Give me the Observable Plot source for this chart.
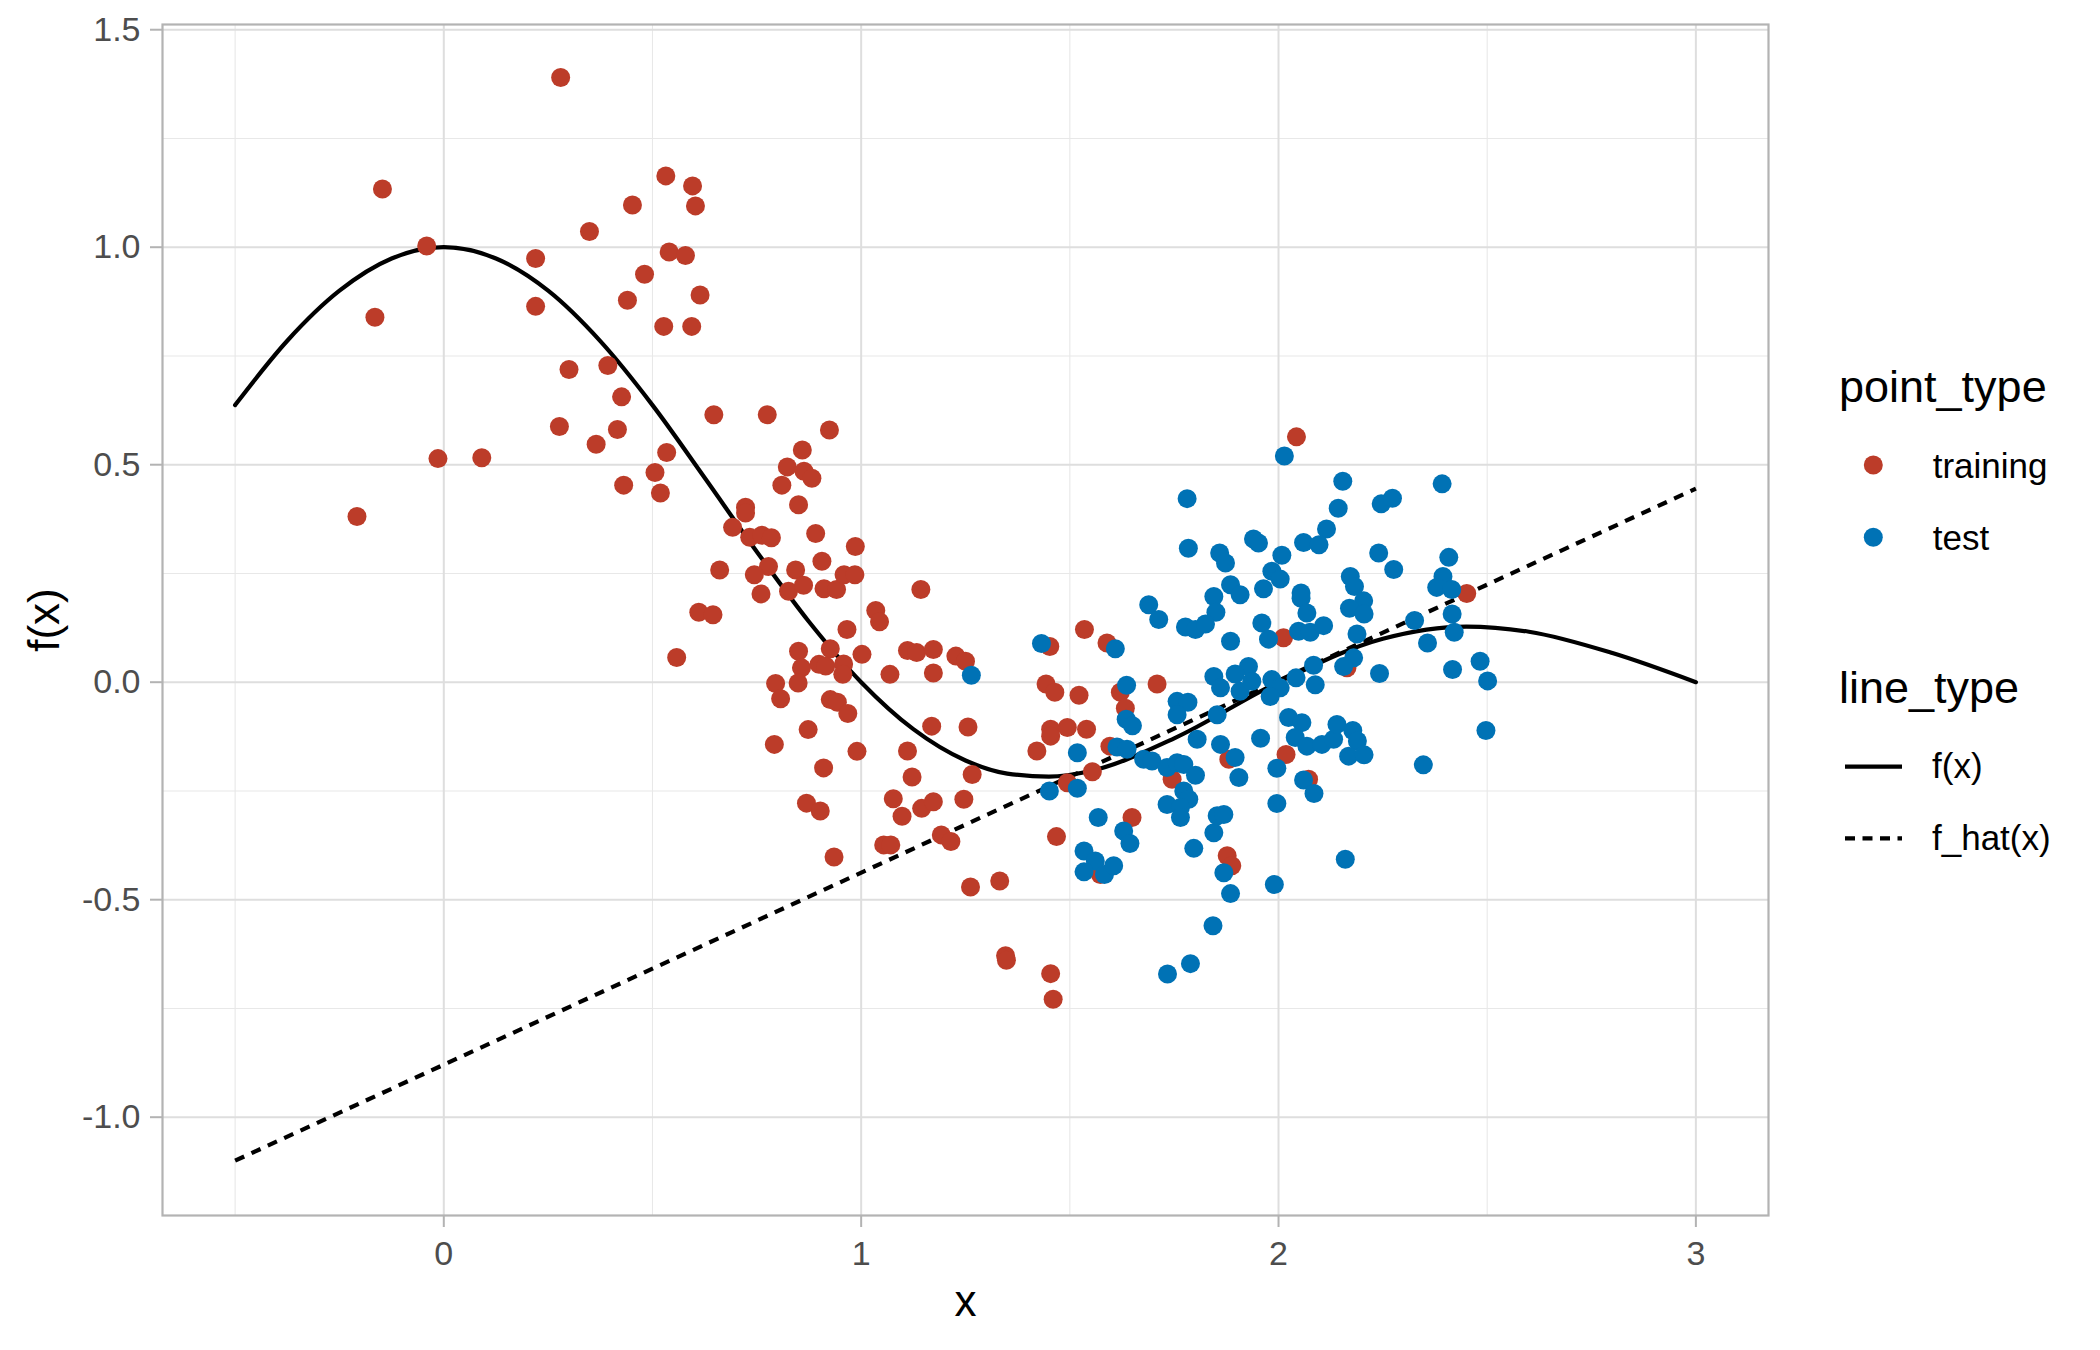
<!DOCTYPE html>
<html>
<head>
<meta charset="utf-8">
<script src="https://cdn.jsdelivr.net/npm/d3@7"></script>
<script src="https://cdn.jsdelivr.net/npm/@observablehq/plot@0.6"></script>
<style>
  html, body { margin: 0; padding: 0; background: #ffffff; }
  #wrap { position: relative; width: 2100px; height: 1350px; overflow: hidden; background: #fff; }
  #chart { position: absolute; left: 0; top: 0; }
  #legend { position: absolute; left: 1800px; top: 0; }
</style>
</head>
<body>
<div id="wrap"><div id="chart"></div><div id="legend"></div></div>
<script>
// ---------------- data ----------------
const trainingPoints = [
  [0.280,1.390],[-0.147,1.134],[-0.041,1.003],[-0.165,0.839],[-0.208,0.381],[-0.014,0.514],[0.091,0.516],
  [0.220,0.974],[0.220,0.864],[0.349,1.036],[0.452,1.097],[0.532,1.164],[0.596,1.141],[0.603,1.095],
  [0.481,0.938],[0.540,0.989],[0.579,0.981],[0.440,0.878],[0.614,0.890],[0.527,0.818],[0.594,0.818],
  [0.300,0.719],[0.393,0.728],[0.426,0.656],[0.277,0.588],[0.416,0.581],[0.365,0.547],[0.534,0.528],
  [0.506,0.482],[0.431,0.453],[0.519,0.435],[0.647,0.615],[0.661,0.258],[0.611,0.161],[0.645,0.155],
  [0.558,0.057],
  [0.775,0.615],[0.924,0.580],[0.859,0.534],[0.823,0.495],[0.863,0.485],[0.882,0.469],[0.810,0.453],
  [0.850,0.408],[0.723,0.402],[0.723,0.389],[0.692,0.356],[0.733,0.333],[0.762,0.338],[0.785,0.332],
  [0.891,0.342],[0.986,0.312],[0.906,0.278],[0.778,0.266],[0.744,0.247],[0.843,0.258],[0.760,0.203],
  [0.826,0.209],[0.862,0.223],[0.911,0.215],[0.941,0.213],[0.959,0.247],[0.985,0.247],[1.143,0.213],
  [1.035,0.165],[1.044,0.139],[0.966,0.121],[0.926,0.077],[0.850,0.071],[1.002,0.064],[1.111,0.073],
  [1.133,0.068],[1.173,0.075],[1.227,0.060],[1.250,0.048],[0.857,0.033],[0.899,0.041],[0.915,0.037],
  [0.958,0.042],[0.956,0.018],[1.069,0.018],[1.173,0.021],[0.795,-0.003],[0.849,-0.002],[0.807,-0.038],
  [0.926,-0.040],[0.943,-0.046],
  [0.968,-0.072],[0.873,-0.109],[0.792,-0.143],[0.990,-0.159],[0.910,-0.197],[0.869,-0.278],[0.902,-0.296],
  [0.935,-0.402],[1.169,-0.101],[1.111,-0.158],[1.122,-0.218],[1.077,-0.268],[1.098,-0.308],[1.145,-0.290],
  [1.173,-0.275],[1.054,-0.374],[1.071,-0.374],[1.192,-0.351],[1.215,-0.366],
  [1.452,0.082],[1.535,0.121],[1.589,0.090],[1.443,-0.004],[1.464,-0.023],[1.522,-0.030],[1.709,-0.004],
  [1.621,-0.023],[1.633,-0.060],
  [1.256,-0.103],[1.454,-0.108],[1.494,-0.104],[1.540,-0.108],[1.454,-0.124],[1.421,-0.158],[1.266,-0.212],
  [1.246,-0.269],[1.596,-0.147],[1.554,-0.206],[1.494,-0.231],[1.649,-0.311],[1.468,-0.355],[1.262,-0.471],
  [1.332,-0.457],[1.346,-0.629],[1.348,-0.639],[1.454,-0.670],[1.460,-0.729],[1.573,-0.442],[1.745,-0.223],
  [1.881,-0.177],[1.877,-0.399],
  [2.043,0.564],[2.451,0.204],[2.012,0.102],[2.164,0.033],[2.018,-0.166],[2.072,-0.223],[1.888,-0.422]
];

const testPoints = [
  [1.781,0.422],[1.784,0.308],[1.859,0.297],[1.873,0.274],[1.885,0.224],[1.845,0.197],[1.850,0.161],
  [1.689,0.178],[1.713,0.144],[1.777,0.127],[1.801,0.121],[1.825,0.134],[1.885,0.094],[1.432,0.089],
  [1.609,0.077],[1.264,0.016],[1.636,-0.007],[1.845,0.013],[1.861,-0.013],[1.757,-0.044],[1.783,-0.046],
  [1.757,-0.075],[1.635,-0.085],[1.853,-0.075],
  [2.014,0.520],[2.154,0.462],[2.392,0.456],[2.246,0.410],[2.273,0.423],[2.143,0.400],[2.115,0.352],
  [2.060,0.321],[2.097,0.316],[1.940,0.329],[1.952,0.320],[2.008,0.292],[2.240,0.297],[2.276,0.259],
  [2.408,0.287],[1.984,0.255],[2.004,0.237],[1.964,0.215],[1.908,0.201],[2.054,0.205],[2.054,0.193],
  [2.068,0.159],[2.172,0.243],[2.182,0.220],[2.204,0.187],[2.170,0.170],[2.205,0.157],[2.394,0.243],
  [2.379,0.218],[2.415,0.213],[1.960,0.136],[1.976,0.099],[2.048,0.117],[2.076,0.115],[2.108,0.130],
  [2.188,0.111],[2.326,0.142],[2.416,0.157],[2.421,0.115],[2.357,0.090],[2.180,0.056],[2.156,0.036],
  [2.084,0.039],[2.042,0.010],[2.088,-0.006],[2.242,0.020],[2.417,0.029],[2.483,0.048],[2.501,0.003],
  [1.928,0.036],[1.896,0.019],[1.908,-0.021],[1.936,0.002],[1.984,0.006],[2.004,-0.013],[1.980,-0.033],
  [1.518,-0.162],[1.451,-0.250],[1.518,-0.244],[1.613,-0.149],[1.637,-0.154],[1.677,-0.177],[1.697,-0.181],
  [1.733,-0.196],[1.757,-0.185],[1.773,-0.189],[1.801,-0.214],[1.805,-0.131],[1.861,-0.143],[1.773,-0.250],
  [1.785,-0.269],[1.733,-0.281],[1.765,-0.288],[1.765,-0.311],[1.568,-0.311],[1.629,-0.342],[1.644,-0.371],
  [1.534,-0.388],[1.561,-0.411],[1.534,-0.436],[1.583,-0.442],[1.605,-0.422],[1.797,-0.382],[1.845,-0.346],
  [1.853,-0.307],[1.869,-0.304],[1.869,-0.438],[1.885,-0.486],[1.843,-0.560],[1.789,-0.647],[1.734,-0.671],
  [1.650,-0.100],
  [2.024,-0.081],[2.056,-0.093],[2.040,-0.127],[2.068,-0.147],[2.104,-0.143],[2.132,-0.131],[2.140,-0.097],
  [2.178,-0.111],[2.189,-0.135],[2.168,-0.170],[2.205,-0.167],[1.957,-0.129],[1.896,-0.173],[1.905,-0.219],
  [1.996,-0.198],[2.060,-0.225],[2.085,-0.256],[1.996,-0.279],[2.160,-0.407],[1.990,-0.465],[2.347,-0.190],
  [2.497,-0.111]
];

// f(x) read at a set of x positions along the solid curve
const fCurveX = [-0.5,-0.375,-0.25,-0.125,0,0.125,0.25,0.375,0.5,0.625,0.75,0.875,1.0,1.125,1.25,1.35,1.45,1.55,1.75,2.0,2.25,2.45,2.6,2.8,3.0];
const fCurveY = [0.637,0.785,0.900,0.974,1.0,0.974,0.900,0.784,0.637,0.470,0.300,0.139,0.0,-0.108,-0.180,-0.210,-0.217,-0.204,-0.129,0.0,0.100,0.128,0.116,0.067,0.0];

// f_hat(x): straight dashed line end points
const fHatX = [-0.5, 3.0];
const fHatY = [-1.10, 0.445];

const xMajorTicks = [0, 1, 2, 3];
const xMinorTicks = [-0.5, 0.5, 1.5, 2.5];
const yMajorTicks = [-1.0, -0.5, 0.0, 0.5, 1.0, 1.5];
const yMinorTicks = [-0.75, -0.25, 0.25, 0.75, 1.25];

const pointTypes = ["training", "test"];
const pointColors = ["#BC3C29", "#0072B5"];
const lineTypes = ["f(x)", "f_hat(x)"];

// ---------------- build tables ----------------
const training = trainingPoints.map(([x, y]) => ({x, y, point_type: "training"}));
const test = testPoints.map(([x, y]) => ({x, y, point_type: "test"}));
const fLine = fCurveX.map((x, i) => ({x, y: fCurveY[i]}));
const fHatLine = fHatX.map((x, i) => ({x, y: fHatY[i]}));

const FONT = "'Liberation Sans', Arial, Helvetica, sans-serif";

const chart = Plot.plot({
  width: 2100,
  height: 1350,
  marginLeft: 162,
  marginRight: 332,
  marginTop: 24,
  marginBottom: 135,
  style: {fontFamily: FONT, background: "#ffffff", overflow: "visible"},
  x: {domain: [-0.674, 3.174], label: null},
  y: {domain: [-1.226, 1.512], label: null},
  marks: [
    Plot.ruleX(xMinorTicks, {stroke: "#E8E8E8", strokeWidth: 1.1}),
    Plot.ruleY(yMinorTicks, {stroke: "#E8E8E8", strokeWidth: 1.1}),
    Plot.ruleX(xMajorTicks, {stroke: "#DEDEDE", strokeWidth: 2}),
    Plot.ruleY(yMajorTicks, {stroke: "#DEDEDE", strokeWidth: 2}),
    Plot.axisX(xMajorTicks, {
      tickSize: 12, tickPadding: 13, stroke: "#B3B3B3", strokeWidth: 2,
      fill: "#4D4D4D", fontSize: 34, label: null, tickFormat: d => String(d)
    }),
    Plot.axisY(yMajorTicks, {
      tickSize: 12, tickPadding: 10, stroke: "#B3B3B3", strokeWidth: 2,
      fill: "#4D4D4D", fontSize: 34, label: null, tickFormat: d => d.toFixed(1)
    }),
    Plot.line(fLine, {x: "x", y: "y", stroke: "#000", strokeWidth: 4.2, curve: "monotone-x"}),
    Plot.line(fHatLine, {x: "x", y: "y", stroke: "#000", strokeWidth: 4.2, strokeDasharray: "10,8", strokeLinecap: "butt"}),
    Plot.dot(training, {x: "x", y: "y", r: 9.5, fill: pointColors[0], stroke: "none"}),
    Plot.dot(test, {x: "x", y: "y", r: 9.5, fill: pointColors[1], stroke: "none"}),
    Plot.frame({stroke: "#B3B3B3", strokeWidth: 2.2}),
    Plot.text(["x"], {text: d => d, frameAnchor: "bottom", textAnchor: "middle", lineAnchor: "middle", dy: 86, fontSize: 44, fill: "#000"}),
    Plot.text(["f(x)"], {text: d => d, frameAnchor: "left", textAnchor: "middle", lineAnchor: "middle", dx: -118, rotate: -90, fontSize: 44, fill: "#000"})
  ]
});
document.getElementById("chart").appendChild(chart);

// ---------------- legend (right of the panel) ----------------
const leg = d3.select("#legend").append("svg")
  .attr("width", 300).attr("height", 1350)
  .style("font-family", FONT);

leg.append("text").attr("x", 39).attr("y", 401.7).attr("font-size", 45).attr("fill", "#000").text("point_type");
pointTypes.forEach((t, i) => {
  const cy = 465 + i * 72.3;
  leg.append("circle").attr("cx", 73.3).attr("cy", cy).attr("r", 9.5).attr("fill", pointColors[i]);
  leg.append("text").attr("x", 132.7).attr("y", cy + 13).attr("font-size", 35).attr("fill", "#000").text(t);
});

leg.append("text").attr("x", 39).attr("y", 703.3).attr("font-size", 45).attr("fill", "#000").text("line_type");
lineTypes.forEach((t, i) => {
  const cy = 766.7 + i * 71.6;
  const ln = leg.append("line").attr("x1", 45).attr("x2", 102).attr("y1", cy).attr("y2", cy)
    .attr("stroke", "#000").attr("stroke-width", 4.2);
  if (i === 1) ln.attr("stroke-dasharray", "10,7.5");
  leg.append("text").attr("x", 132).attr("y", cy + 11.7).attr("font-size", 35).attr("fill", "#000").text(t);
});
</script>
</body>
</html>
